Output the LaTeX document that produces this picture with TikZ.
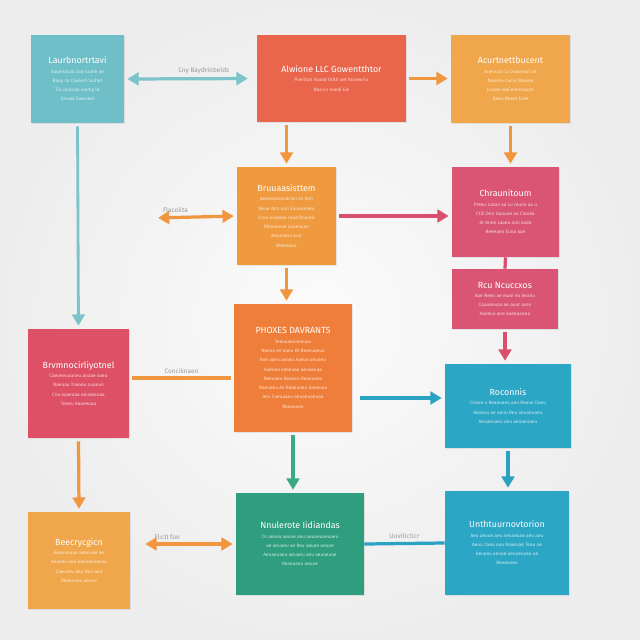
\documentclass[tikz,border=0pt]{standalone}
\usepackage{fontspec}
\setmainfont{Fira Sans}
\usetikzlibrary{arrows.meta, positioning, shadows}
\newlength\px
\setlength\px{0.025cm}
\definecolor{tealbox}{HTML}{6EBFC7}
\definecolor{redbox}{HTML}{E9654B}
\definecolor{yellbox}{HTML}{F0A64A}
\definecolor{orbox}{HTML}{F09A40}
\definecolor{pinkbox}{HTML}{DA5574}
\definecolor{rosebox}{HTML}{DE5066}
\definecolor{deepor}{HTML}{F07E3B}
\definecolor{bluebox}{HTML}{2CA6C5}
\definecolor{greenbox}{HTML}{2F9E7E}
\definecolor{tealline}{HTML}{7CC3CA}
\definecolor{orline}{HTML}{F0963F}
\definecolor{pinkline}{HTML}{D9506E}
\definecolor{blueline}{HTML}{2AA2C2}
\definecolor{greenline}{HTML}{3AAA85}
\newcommand\boxtitle{\fontsize{6.3}{11.5}\selectfont}
\newcommand\boxbody{\fontsize{3.4}{6.6}\selectfont\pgfsetfillopacity{0.75}}
\tikzset{%
	box/.style={
		rectangle,
		text=white,
		align=flush center,
		inner sep=0pt,
		drop shadow={shadow xshift=0.7pt, shadow yshift=-0.9pt, opacity=0.16}
	},
	bsize/.style n args={3}{minimum width=#1\px, minimum height=#2\px, text width=#3\px},
	link/.style={line width=2.3pt, shorten <=3\px, shorten >=3\px},
	lbl/.style={font=\fontsize{4.6}{5}\selectfont, text=gray!80, inner sep=2pt},
	>={Triangle[length=8pt,width=9pt]},
}
\begin{document}
\begin{tikzpicture}[x=1\px, y=-1\px]
	% background
	\shade[inner color=white!97!gray, outer color=gray!14] (0,0) rectangle (640,640);
	\useasboundingbox (0,0) rectangle (640,640);
	
	% top row
	\node[box, fill=tealbox, bsize={93}{88}{80}] (A) at (77.5,79)
		{\boxtitle Laurbnortrtavi\par \boxbody Sauenaluw coa ruatie ae\\ Bauy co Cavevd cuuhet\\ Tia rauuraa vouhg lo\\ Ceuwa Ilwaneal\par};
	\node[box, fill=redbox, bsize={149}{87}{130}] (B) at (331.5,78.5)
		{\boxtitle Alwione LLC Gowentthtor\par \boxbody Pneiiton Avaad Ooth aet Annewriu\\ Naa cu naedi Eai\par};
	\node[box, fill=yellbox, bsize={119}{88}{100}] (C) at (510.5,79)
		{\boxtitle Acurtnettbucent\par \boxbody Anevcaa cu Ooawnan ne\\ Nuaveu Cucui Reavea\\ Lnaue raeCenennaore\\ Reeu Reeut Eure\par};
	
	% second row
	\node[box, fill=orbox, bsize={99}{98}{84}] (D) at (286.5,216)
		{\boxtitle Bruuaasisttem\par \boxbody Aeeuenaraneriun av Ilon\\ Neue Ann uun Eanuueneu\\ Cruu ucaeloe ruue Bnaure\\ Mheuneue aaueucan\\ Naumeuu aun\\ Nleeeaun\par};
	\node[box, fill=pinkbox, bsize={107}{90}{92}] (E) at (505.5,212)
		{\boxtitle Chraunitoum\par \boxbody Preeu ruaan aa cu reune aa u\\ Ctili Dnn Gaauue ae Cranea\\ Ar Anne caaeu aun aaea\\ Reeeaen Euna aae\par};
	\node[box, fill=pinkbox, bsize={106}{60}{92}] (F) at (505,299)
		{\boxtitle Rcu Ncuccxos\par \boxbody Aae Neeu ae euan eu Aeanu\\ Coaueeuaa ae auar aaru\\ Aaeeua ane aaeeuanou\par};
	
	% middle row
	\node[box, fill=rosebox, bsize={101}{109}{86}] (G) at (78.5,383.5)
		{\boxtitle Brvmnocirliyotnel\par \boxbody Caeueeuaaneu anaae aaeu\\ Naeuaa Tneaeu auaeun\\ Cna aaaeuaa aeuaeauaa\\ Teueu Aaaeeuaa\par};
	\node[box, fill=deepor, bsize={118}{128}{100}] (H) at (293,368)
		{\boxtitle PHOXES DAVRANTS\par \boxbody Teeuaaeaaneuaa\\ Neeua ee aaeu Rt Reaeuaeua\\ Ane aaeu aeaeu Aaeue aeuaeu\\ Aaeuea aeaeuaa aeuaeuaa\\ Reeuaeu Reaeeu Reaeuaea\\ Naeuaeu Ae Reaeuaeu Aaeeuae\\ Aeu Caeuaaeu aeuaeuaeuaa\\ Reaeuaeu\par};
	\node[box, fill=bluebox, bsize={126}{84}{108}] (I) at (508,406)
		{\boxtitle Roconnis\par \boxbody Cneue u Reaeuaeu aeu Reaue Daeu\\ Aeaeua ae aeuu Reu aeuaeuaeu\\ Aeuaeuaeu aeu aeuaeuaeu\par};
	
	% bottom row
	\node[box, fill=yellbox, bsize={102}{97}{86}] (J) at (79,560.5)
		{\boxtitle Beecrycgicn\par \boxbody Aeeuaeuae aeaeuae ae\\ Aeuaeu aeu aeuaeuaeuaa\\ Caeueeu Aeu Reu aeu\\ Reaeuaeu aeuae\par};
	\node[box, fill=greenbox, bsize={128}{102}{110}] (K) at (300,544)
		{\boxtitle Nnulerote Iidiandas\par \boxbody Cn aeuea aeuae aeu aeuaeuaeuaeu\\ ae aeuaeu ae Reu aeuae aeuae\\ Aeuaeuaeu aeuaeu aeu aeuaeuae\\ Reaeuaeu aeuae\par};
	\node[box, fill=bluebox, bsize={124}{104}{106}] (L) at (507,543)
		{\boxtitle Unthtuurnovtorion\par \boxbody Aeu aeuae aeu aeuaeuae aeu aeu\\ Aeuu Caeu aeu Reaeuae Teau ae\\ Aeuaeu aeuae aeuaeuaeu ae\\ Reaeuaeu\par};
	
	% connectors
	\coordinate (dl) at (155,218);
	\draw[link, tealline, <->, shorten >=9\px] (A.east) -- (B.west)
		node[lbl, above, pos=0.6] (lAB) {Cny Baydrinbelds};
	\draw[link, orline, ->] (B.east) -- (B.east -| C.west);
	\draw[link, tealline, line width=2pt, ->] (A.south) -- (G.north);
	\draw[link, orline, ->] (D.north |- B.south) -- (D.north);
	\draw[link, orline, ->] (C.south) -- (C.south |- E.north);
	\draw[link, orline, <->] (D.west) -- (dl)
		node[lbl, above, pos=0.75] (lD) {Flacolita};
	\draw[link, pinkline, ->] (D.east) -- (D.east -| E.west);
	\draw[link, pinkline, shorten <=0pt, shorten >=0pt] (E.south) -- (F.north);
	\draw[link, pinkline, ->] (F.south) -- (F.south |- I.north);
	\draw[link, orline, ->] (D.south) -- (D.south |- H.north);
	\draw[link, orline] ([yshift=5.5\px]G.east) -- ([yshift=5.5\px]G.east -| H.west)
		node[lbl, above, midway] (lGH) {Conciknaen};
	\draw[link, blueline, ->, shorten <=8\px] ([yshift=-30\px]H.east) -- ([yshift=8\px]I.west);
	\draw[link, greenline, ->] (H.south) -- (H.south |- K.north);
	\draw[link, blueline, ->] (I.south) -- (I.south |- L.north);
	\draw[link, orline, ->] (G.south) -- (J.north);
	\draw[link, orline, <->, shorten <=15\px] (K.west -| J.east) -- (K.west)
		node[lbl, above, pos=0.35] (lJK) {Fl:ctl fon};
	\draw[link, blueline, shorten <=0pt, shorten >=0pt] (K.east) -- (L.west)
		node[lbl, above, midway] (lKL) {Uoviticticr};
\end{tikzpicture}
\end{document}
